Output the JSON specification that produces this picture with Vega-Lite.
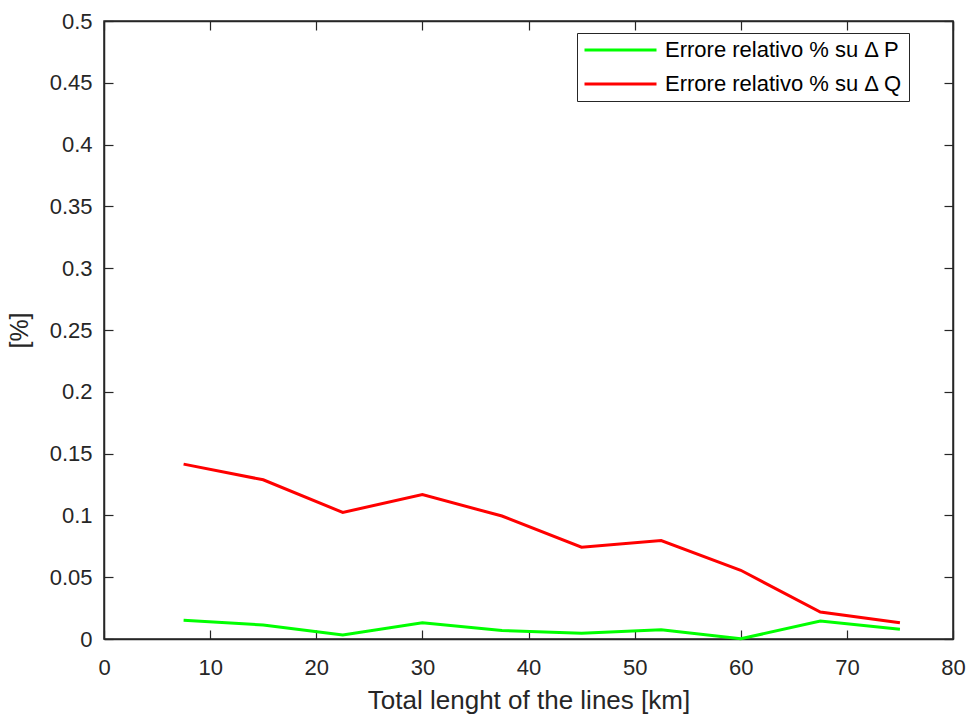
{
  "$schema": "https://vega.github.io/schema/vega-lite/v6.json",
  "width": 849,
  "height": 618,
  "autosize": {"type": "none"},
  "padding": {"left": 104, "top": 21, "right": 16, "bottom": 77},
  "background": "white",
  "config": {
    "font": "Liberation Sans",
    "view": {"stroke": "#262626", "strokeWidth": 1.5},
    "axis": {
      "domainColor": "#262626",
      "domainWidth": 1.5,
      "tickColor": "#262626",
      "tickWidth": 1.2,
      "tickSize": -9,
      "labelColor": "#262626",
      "labelFontSize": 22,
      "labelFont": "Liberation Sans",
      "titleFont": "Liberation Sans",
      "titleColor": "#262626",
      "titleFontWeight": "normal",
      "grid": false
    }
  },
  "data": {
    "values": [
      {"x": 7.5, "v": 0.0151, "s": "Errore relativo % su Δ P"},
      {"x": 15, "v": 0.0113, "s": "Errore relativo % su Δ P"},
      {"x": 22.5, "v": 0.0032, "s": "Errore relativo % su Δ P"},
      {"x": 30, "v": 0.0131, "s": "Errore relativo % su Δ P"},
      {"x": 37.5, "v": 0.0068, "s": "Errore relativo % su Δ P"},
      {"x": 45, "v": 0.0047, "s": "Errore relativo % su Δ P"},
      {"x": 52.5, "v": 0.0075, "s": "Errore relativo % su Δ P"},
      {"x": 60, "v": 0.0002, "s": "Errore relativo % su Δ P"},
      {"x": 67.5, "v": 0.0145, "s": "Errore relativo % su Δ P"},
      {"x": 75, "v": 0.0079, "s": "Errore relativo % su Δ P"},
      {"x": 7.5, "v": 0.1415, "s": "Errore relativo % su Δ Q"},
      {"x": 15, "v": 0.1288, "s": "Errore relativo % su Δ Q"},
      {"x": 22.5, "v": 0.1024, "s": "Errore relativo % su Δ Q"},
      {"x": 30, "v": 0.1168, "s": "Errore relativo % su Δ Q"},
      {"x": 37.5, "v": 0.0995, "s": "Errore relativo % su Δ Q"},
      {"x": 45, "v": 0.0743, "s": "Errore relativo % su Δ Q"},
      {"x": 52.5, "v": 0.0796, "s": "Errore relativo % su Δ Q"},
      {"x": 60, "v": 0.0556, "s": "Errore relativo % su Δ Q"},
      {"x": 67.5, "v": 0.0218, "s": "Errore relativo % su Δ Q"},
      {"x": 75, "v": 0.0131, "s": "Errore relativo % su Δ Q"}
    ]
  },
  "resolve": {"axis": {"x": "independent", "y": "independent"}},
  "layer": [
    {
      "mark": {"type": "line", "strokeWidth": 3},
      "encoding": {
        "x": {
          "field": "x", "type": "quantitative",
          "scale": {"domain": [0, 80], "nice": false},
          "axis": {"values": [0,10,20,30,40,50,60,70,80], "title": "Total lenght of the lines [km]", "titleFontSize": 26, "titleBaseline": "alphabetic", "labelPadding": 27, "titleY": 69, "labelFlush": false}
        },
        "y": {
          "field": "v", "type": "quantitative",
          "scale": {"domain": [0, 0.5], "nice": false},
          "axis": {"values": [0,0.05,0.1,0.15,0.2,0.25,0.3,0.35,0.4,0.45,0.5], "format": ".2~f", "title": "[%]", "titleFontSize": 25, "titleBaseline": "middle", "labelPadding": 21, "titleX": -85, "labelFlush": false}
        },
        "color": {
          "field": "s", "type": "nominal",
          "scale": {"domain": ["Errore relativo % su Δ P", "Errore relativo % su Δ Q"], "range": ["#00ff00", "#ff0000"]},
          "legend": {
            "title": null,
            "orient": "none",
            "legendX": 473,
            "legendY": 12,
            "symbolType": "stroke",
            "symbolSize": 5184,
            "symbolStrokeWidth": 3,
            "clipHeight": 22,
            "labelFontSize": 22,
            "labelLimit": 0,
            "labelColor": "#000000",
            "labelFont": "Liberation Sans",
            "strokeColor": "#262626",
            "fillColor": "white",
            "padding": 6,
            "rowPadding": 12,
            "labelOffset": 7,
            "symbolOffset": 0
          }
        }
      }
    },
    {
      "mark": {"type": "line", "strokeOpacity": 0},
      "encoding": {
        "x": {
          "field": "x", "type": "quantitative",
          "scale": {"domain": [0, 80], "nice": false},
          "axis": {"orient": "top", "values": [0,10,20,30,40,50,60,70,80], "labels": false, "title": null}
        },
        "y": {
          "field": "v", "type": "quantitative",
          "scale": {"domain": [0, 0.5], "nice": false},
          "axis": {"orient": "right", "values": [0,0.05,0.1,0.15,0.2,0.25,0.3,0.35,0.4,0.45,0.5], "labels": false, "title": null}
        },
        "detail": {"field": "s", "type": "nominal"}
      }
    }
  ]
}
